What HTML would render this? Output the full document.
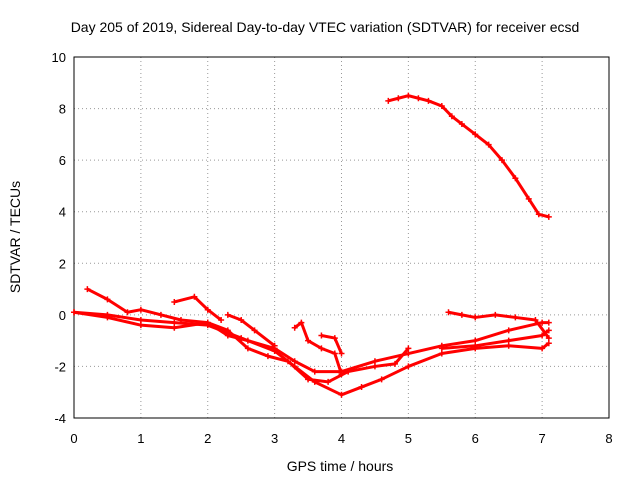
<!DOCTYPE html>
<html><head><meta charset="utf-8"><style>
body{margin:0;background:#fff}
svg{display:block;font-family:"Liberation Sans",sans-serif}
</style></head><body>
<svg id="chart" width="640" height="480" viewBox="0 0 640 480">
<rect width="640" height="480" fill="#fff"/>
<text x="325" y="32" text-anchor="middle" font-size="14">Day 205 of 2019, Sidereal Day-to-day VTEC variation (SDTVAR) for receiver ecsd</text>
<g id="grid"></g>
<rect x="74" y="57" width="535" height="361" fill="none" stroke="#000" stroke-width="1"/>
<g id="ticks" font-size="13"></g>
<text x="340" y="471" text-anchor="middle" font-size="14">GPS time / hours</text>
<text transform="translate(20,237) rotate(-90)" text-anchor="middle" font-size="14">SDTVAR / TECUs</text>
<g id="series"></g>
</svg>
<script>
const xTicks=[0,1,2,3,4,5,6,7,8];
const yTicks=[-4,-2,0,2,4,6,8,10];
const trackA=[[4.7,8.3],[4.85,8.4],[5.0,8.5],[5.15,8.4],[5.3,8.3],[5.5,8.1],[5.65,7.7],[5.8,7.4],[6.0,7.0],[6.2,6.6],[6.4,6.0],[6.6,5.3],[6.8,4.5],[6.95,3.9],[7.1,3.8]];
const trackB=[[0,0.1],[0.5,0.0],[1.0,-0.2],[1.5,-0.3],[2.0,-0.4],[2.5,-0.9],[3.0,-1.4],[3.3,-2.0],[3.6,-2.6],[4.0,-3.1],[4.3,-2.8],[4.6,-2.5],[5.0,-2.0],[5.5,-1.5],[6.0,-1.3],[6.5,-1.2],[7.0,-1.3],[7.1,-1.1]];
const trackC=[[0,0.1],[0.5,-0.1],[1.0,-0.4],[1.5,-0.5],[2.0,-0.3],[2.3,-0.8],[2.6,-1.0],[3.0,-1.3],[3.3,-1.8],[3.6,-2.2],[4.0,-2.2],[4.5,-1.8],[5.0,-1.5],[5.5,-1.2],[6.0,-1.0],[6.5,-0.6],[7.0,-0.3],[7.1,-0.3]];
const trackD=[[0.2,1.0],[0.5,0.6],[0.8,0.1],[1.0,0.2],[1.3,0.0],[1.6,-0.2],[2.0,-0.3],[2.3,-0.6],[2.6,-1.3],[2.9,-1.6],[3.2,-1.8],[3.5,-2.5],[3.8,-2.6],[4.1,-2.2],[4.5,-2.0],[4.8,-1.9],[5.0,-1.3]];
const trackE=[[1.5,0.5],[1.8,0.7],[2.0,0.2],[2.2,-0.2]];
const trackF=[[2.3,0.0],[2.5,-0.2],[2.7,-0.6],[3.0,-1.2]];
const trackG=[[3.3,-0.5],[3.4,-0.3],[3.5,-1.0],[3.7,-1.3],[3.9,-1.5],[4.0,-2.3]];
const trackH=[[3.7,-0.8],[3.9,-0.9],[4.0,-1.5]];
const trackI=[[5.6,0.1],[5.8,0.0],[6.0,-0.1],[6.3,0.0],[6.6,-0.1],[6.9,-0.2],[7.1,-0.9]];
const trackJ=[[5.5,-1.3],[6.0,-1.2],[6.5,-1.0],[7.0,-0.8],[7.1,-0.6]];
const tracks=[trackA,trackB,trackC,trackD,trackE,trackF,trackG,trackH,trackI,trackJ];
const X=v=>74+v*(535/8);
const Y=v=>418-(v+4)*(361/14);
const NS="http://www.w3.org/2000/svg";
const grid=document.getElementById('grid'),ticks=document.getElementById('ticks'),ser=document.getElementById('series');
function mk(t,a,p){const e=document.createElementNS(NS,t);for(const k in a)e.setAttribute(k,a[k]);p.appendChild(e);return e;}
xTicks.forEach(v=>{
  if(v>0&&v<8){const g=mk('line',{x1:X(v),x2:X(v),y1:57,y2:418,stroke:'#999','stroke-dasharray':'1,3'},grid);
  
  }
  const t=mk('text',{x:X(v),y:443,'text-anchor':'middle'},ticks);t.textContent=v;
  
  
});
yTicks.forEach(v=>{
  if(v>-4&&v<10){const g=mk('line',{x1:74,x2:609,y1:Y(v),y2:Y(v),stroke:'#999','stroke-dasharray':'1,3'},grid);
  
  }
  const t=mk('text',{x:66,y:Y(v)+5,'text-anchor':'end'},ticks);t.textContent=v;
  
  
});
tracks.forEach((tr,i)=>{
  const p=mk('polyline',{points:tr.map(d=>X(d[0])+','+Y(d[1])).join(' '),fill:'none',stroke:'#f00','stroke-width':3,'stroke-linejoin':'round'},ser);
  
  
  tr.forEach(d=>{
    const m=mk('path',{d:`M${X(d[0])-3},${Y(d[1])}h6M${X(d[0])},${Y(d[1])-3}v6`,stroke:'#f00','stroke-width':1.5},ser);
    
    
  });
});
</script>
</body></html>
